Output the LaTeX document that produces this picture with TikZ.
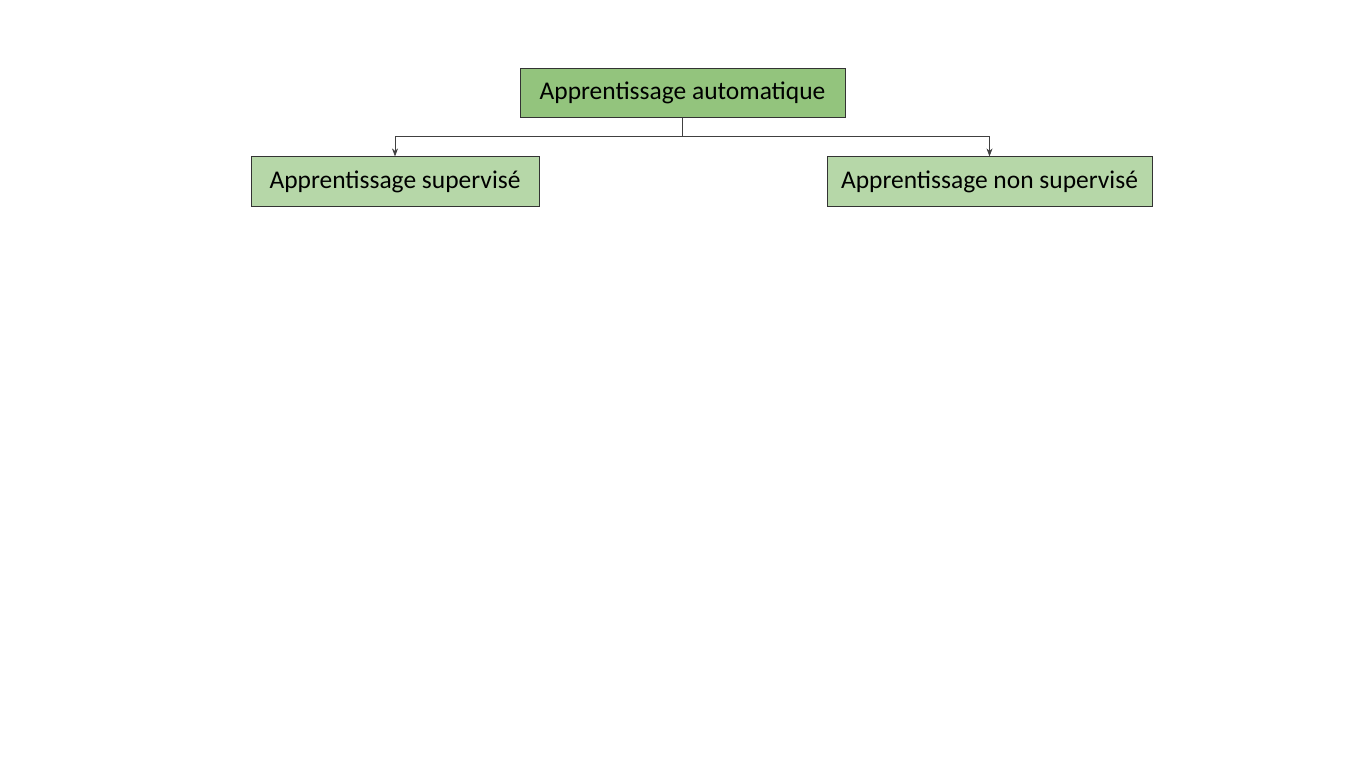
\documentclass[tikz,border=0pt]{standalone}
\usepackage{fontspec}
\setmainfont{Carlito}
\usetikzlibrary{arrows.meta, positioning, calc}
\definecolor{topgreen}{HTML}{93C47D}
\definecolor{subgreen}{HTML}{B6D7A8}
\begin{document}
\begin{tikzpicture}[
    box/.style={draw=black!80, thin, minimum height=0.99cm, inner sep=0pt, font=\fontsize{14.5}{16}\selectfont},
    link/.style={draw=black!75, thin, -{Stealth[length=1.6mm, width=1.2mm]}}]
  \useasboundingbox (0,0) rectangle (27.3,-15.36);
  % root and its two branches
  \node[box, fill=topgreen, minimum width=6.5cm] (ml) at (13.65,-1.86) {Apprentissage automatique};
  \node[box, fill=subgreen, minimum width=5.76cm] (sup) at (7.9,-3.63) {Apprentissage supervisé};
  \node[box, fill=subgreen, minimum width=6.5cm] (unsup) at (19.79,-3.63) {Apprentissage non supervisé};
  % connectors
  \coordinate (split) at ($(ml.south)+(0,-0.36)$);
  \draw[link] (ml.south) -- (split) -| (sup.north);
  \draw[link] (split) -| (unsup.north);
\end{tikzpicture}
\end{document}
